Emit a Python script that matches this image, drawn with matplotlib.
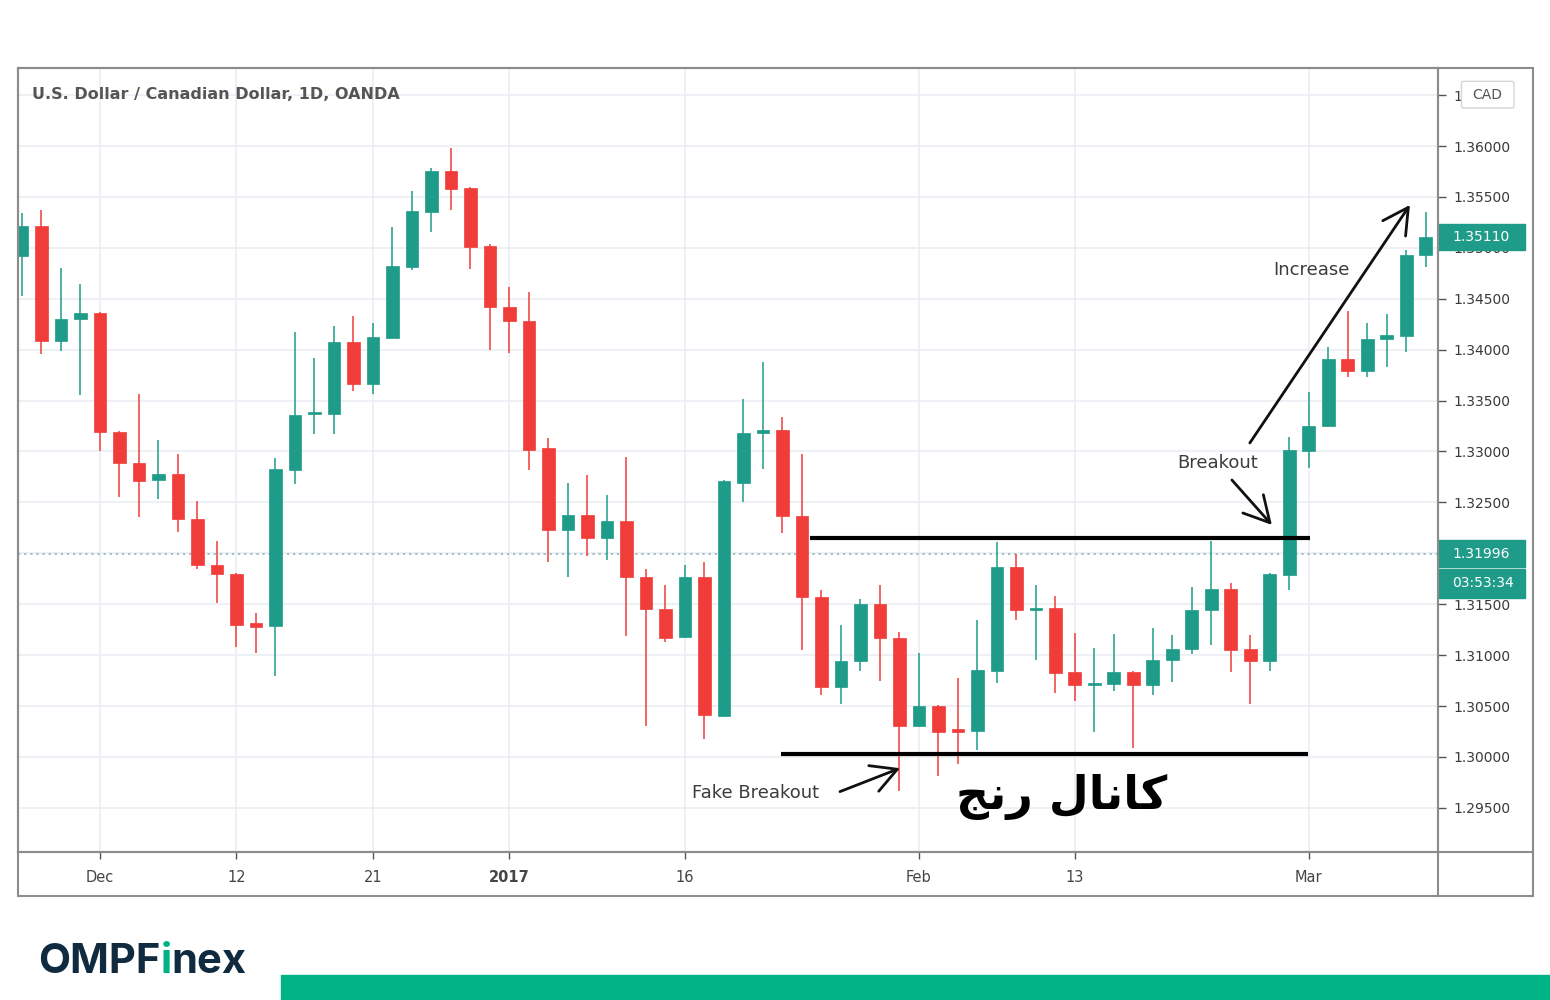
import matplotlib
matplotlib.use("Agg")
import matplotlib.pyplot as plt
from matplotlib import transforms
from matplotlib.patches import Rectangle, FancyBboxPatch
from matplotlib.lines import Line2D

# USD/CAD daily candles, Nov 2016 - Mar 2017
opens = [1.3492, 1.3521, 1.3409, 1.3430, 1.3436, 1.3319, 1.3289, 1.3272, 1.3278, 1.3234,
         1.3189, 1.3180, 1.3132, 1.3129, 1.3282, 1.3337, 1.3337, 1.3408, 1.3366, 1.3411,
         1.3481, 1.3535, 1.3575, 1.3559, 1.3502, 1.3442, 1.3428, 1.3303, 1.3223, 1.3238,
         1.3215, 1.3232, 1.3177, 1.3145, 1.3118, 1.3177, 1.3040, 1.3269, 1.3318, 1.3321,
         1.3237, 1.3157, 1.3069, 1.3094, 1.3150, 1.3117, 1.3030, 1.3050, 1.3027, 1.3026,
         1.3084, 1.3187, 1.3144, 1.3146, 1.3083, 1.3071, 1.3072, 1.3083, 1.3071, 1.3095,
         1.3106, 1.3144, 1.3165, 1.3106, 1.3094, 1.3179, 1.3300, 1.3325, 1.3391, 1.3379,
         1.3410, 1.3413, 1.3493]
highs = [1.3534, 1.3537, 1.3480, 1.3464, 1.3437, 1.3320, 1.3356, 1.3311, 1.3298, 1.3251,
         1.3212, 1.3181, 1.3141, 1.3294, 1.3417, 1.3392, 1.3423, 1.3433, 1.3426, 1.3520,
         1.3556, 1.3578, 1.3598, 1.3560, 1.3504, 1.3462, 1.3457, 1.3313, 1.3269, 1.3277,
         1.3257, 1.3295, 1.3185, 1.3169, 1.3189, 1.3191, 1.3272, 1.3352, 1.3388, 1.3334,
         1.3298, 1.3164, 1.3130, 1.3155, 1.3169, 1.3123, 1.3102, 1.3051, 1.3078, 1.3135,
         1.3211, 1.3199, 1.3169, 1.3158, 1.3122, 1.3107, 1.3121, 1.3084, 1.3127, 1.3120,
         1.3167, 1.3212, 1.3171, 1.3120, 1.3181, 1.3314, 1.3358, 1.3403, 1.3438, 1.3426,
         1.3435, 1.3498, 1.3535]
lows = [1.3453, 1.3396, 1.3399, 1.3355, 1.3300, 1.3255, 1.3236, 1.3253, 1.3221, 1.3185,
        1.3151, 1.3108, 1.3102, 1.3080, 1.3268, 1.3317, 1.3317, 1.3359, 1.3356, 1.3411,
        1.3478, 1.3516, 1.3537, 1.3479, 1.3400, 1.3397, 1.3282, 1.3191, 1.3177, 1.3197,
        1.3193, 1.3119, 1.3030, 1.3113, 1.3117, 1.3018, 1.3040, 1.3250, 1.3283, 1.3220,
        1.3105, 1.3061, 1.3052, 1.3084, 1.3075, 1.2967, 1.3029, 1.2981, 1.2993, 1.3007,
        1.3073, 1.3135, 1.3095, 1.3063, 1.3055, 1.3025, 1.3065, 1.3009, 1.3061, 1.3074,
        1.3101, 1.3110, 1.3083, 1.3052, 1.3084, 1.3164, 1.3284, 1.3324, 1.3373, 1.3373,
        1.3383, 1.3398, 1.3481]
closes = [1.3521, 1.3409, 1.3430, 1.3436, 1.3319, 1.3289, 1.3271, 1.3278, 1.3234, 1.3189,
          1.3180, 1.3130, 1.3128, 1.3283, 1.3336, 1.3339, 1.3408, 1.3366, 1.3412, 1.3482,
          1.3536, 1.3575, 1.3558, 1.3501, 1.3442, 1.3428, 1.3301, 1.3223, 1.3238, 1.3215,
          1.3232, 1.3177, 1.3145, 1.3117, 1.3177, 1.3041, 1.3271, 1.3318, 1.3321, 1.3237,
          1.3157, 1.3069, 1.3094, 1.3150, 1.3117, 1.3030, 1.3050, 1.3025, 1.3025, 1.3085,
          1.3187, 1.3144, 1.3146, 1.3082, 1.3071, 1.3073, 1.3083, 1.3071, 1.3095, 1.3106,
          1.3144, 1.3165, 1.3105, 1.3094, 1.3180, 1.3301, 1.3325, 1.3391, 1.3379, 1.3410,
          1.3414, 1.3493, 1.3511]

date_ticks = [4, 11, 18, 25, 34, 46, 54, 66]
date_labels = ["Dec", "12", "21", "2017", "16", "Feb", "13", "Mar"]
price_ticks = [1.295, 1.300, 1.305, 1.310, 1.315, 1.320, 1.325, 1.330,
               1.335, 1.340, 1.345, 1.350, 1.355, 1.360, 1.365]

last_price = 1.35110
line_price = 1.31996
countdown = "03:53:34"
channel_top = 1.3215
channel_bottom = 1.3003

UP = "#1f9c89"
DOWN = "#f03d3a"
FRAME = "#8c8c8c"
GRID = "#eaeef2"

fig = plt.figure(figsize=(15.5, 10), dpi=100)
ax = fig.add_axes([18 / 1550, 148 / 1000, 1420 / 1550, 784 / 1000])

idx = list(range(len(opens)))
cols = [UP if c >= o else DOWN for o, c in zip(opens, closes)]
bottoms = [min(o, c) for o, c in zip(opens, closes)]
heights = [max(abs(c - o), 0.00012) for o, c in zip(opens, closes)]

ax.vlines(idx, lows, highs, colors=cols, lw=1.3, alpha=0.85, zorder=2)
ax.bar(idx, heights, bottom=bottoms, width=0.66, color=cols, edgecolor=cols, lw=0.5, zorder=3)

ax.set_xlim(-0.205, 72.62)
ax.set_ylim(1.29067, 1.36766)

ax.set_xticks(date_ticks)
ax.set_xticklabels(date_labels)
for lab in ax.get_xticklabels():
    if lab.get_text() == "2017":
        lab.set_fontweight("bold")
ax.yaxis.tick_right()
ax.set_yticks(price_ticks)
# top label is hidden behind the currency button, only its first digit shows
ax.set_yticklabels(["%.5f" % p for p in price_ticks[:-1]] + ["1"])
ax.grid(True, color=GRID, lw=1.2, zorder=0)
ax.set_axisbelow(True)
ax.tick_params(axis="y", direction="out", length=6, width=1, color="#555555",
               labelsize=10, labelcolor="#3a3a3a", pad=5)
ax.tick_params(axis="x", direction="out", length=5, width=1, color="#555555",
               labelsize=10.5, labelcolor="#454545", pad=8)
for s in ax.spines.values():
    s.set_color(FRAME)
    s.set_linewidth(1.5)

# outer frame of the price/time scales
fig.add_artist(Rectangle((18 / 1550, 104 / 1000), 1515 / 1550, 828 / 1000, fill=False,
                         ec=FRAME, lw=1.5, transform=fig.transFigure))
fig.add_artist(Line2D([18 / 1550, 1533 / 1550], [0.148, 0.148], color=FRAME, lw=1.5))
fig.add_artist(Line2D([1438 / 1550, 1438 / 1550], [0.104, 0.932], color=FRAME, lw=1.5))

ax.axhline(line_price, ls=(0, (1.5, 2.5)), color="#86b3b0", lw=1.1, zorder=1)

# price labels on the scale
trans = transforms.blended_transform_factory(ax.transAxes, ax.transData)
ax.add_patch(Rectangle((1.0, last_price - 0.00128), 0.0613, 0.00256, transform=trans,
                       color=UP, clip_on=False, zorder=5))
ax.text(1.0099, last_price, "%.5f" % last_price, transform=trans, color="white",
        fontsize=10, va="center", ha="left", zorder=6, clip_on=False)
ax.add_patch(Rectangle((1.0, line_price - 0.00130), 0.0613, 0.00262, transform=trans,
                       color=UP, clip_on=False, zorder=5))
ax.text(1.0099, line_price, "%.5f" % line_price, transform=trans, color="white",
        fontsize=10, va="center", ha="left", zorder=6, clip_on=False)
ax.add_patch(Rectangle((1.0, line_price - 0.00434), 0.0613, 0.00284, transform=trans,
                       color=UP, clip_on=False, zorder=5))
ax.text(1.0099, line_price - 0.00292, countdown, transform=trans, color="white",
        fontsize=10, va="center", ha="left", zorder=6, clip_on=False)
ax.add_patch(FancyBboxPatch((1.0185, 0.951), 0.033, 0.030, boxstyle="round,pad=0.002",
                            transform=ax.transAxes, fc="white", ec="#d5d5d5", lw=1,
                            clip_on=False, zorder=5))
ax.text(1.035, 0.966, "CAD", transform=ax.transAxes, color="#555555", fontsize=10,
        va="center", ha="center", zorder=6, clip_on=False)

ax.text(0.00986, 0.9656, "U.S. Dollar / Canadian Dollar, 1D, OANDA", transform=ax.transAxes,
        fontsize=11.5, fontweight="bold", color="#555555", va="center", ha="left")

# range channel and annotations
ax.hlines(channel_top, 40.4, 66.05, color="black", lw=3, zorder=4)
ax.hlines(channel_bottom, 38.95, 65.95, color="black", lw=3, zorder=4)

arrow = dict(arrowstyle="->,head_length=0.7,head_width=0.38", color="#111111", lw=2,
             mutation_scale=26, shrinkA=0, shrinkB=0)
ax.annotate("", xy=(45.03, 1.2989), xytext=(41.95, 1.2966), arrowprops=arrow, zorder=6)
ax.annotate("", xy=(64.1, 1.32279), xytext=(62.05, 1.3272), arrowprops=arrow, zorder=6)
ax.annotate("", xy=(71.18, 1.35421), xytext=(62.97, 1.33084), arrowprops=arrow, zorder=6)

ax.text(37.6, 1.2965, "Fake Breakout", fontsize=13, color="#3c3c3c", ha="center", va="center")
ax.text(61.3, 1.32888, "Breakout", fontsize=13, color="#3c3c3c", ha="center", va="center")
ax.text(66.15, 1.34783, "Increase", fontsize=13, color="#3c3c3c", ha="center", va="center")

# "کانال رنج" in presentation forms, visual order
ax.text(53.3, 1.2961, "\uFE9E\uFEE7\uFEAD \uFEDD\uFE8E\uFEE7\uFE8E\uFB90", fontsize=33,
        fontweight="bold", family=["DejaVu Sans"], color="black", ha="center", va="center",
        zorder=6)

# logo and footer bar
logo_font = ["Inter", "DejaVu Sans"]
t1 = fig.text(38 / 1550, 0.027, "OMPF", fontsize=30, fontweight="bold", color="#102b40",
              va="baseline", ha="left", family=logo_font)
t2 = plt.annotate("i", xy=(1, 0), xycoords=t1, fontsize=30, fontweight="bold", color="#00b386",
                  va="bottom", ha="left", family=logo_font, annotation_clip=False)
plt.annotate("nex", xy=(1, 0), xycoords=t2, fontsize=30, fontweight="bold", color="#102b40",
             va="bottom", ha="left", family=logo_font, annotation_clip=False)
fig.add_artist(Rectangle((281 / 1550, 0), 1269 / 1550, 25 / 1000, color="#00b386",
                         transform=fig.transFigure))

fig.savefig("out.png", dpi=100)
